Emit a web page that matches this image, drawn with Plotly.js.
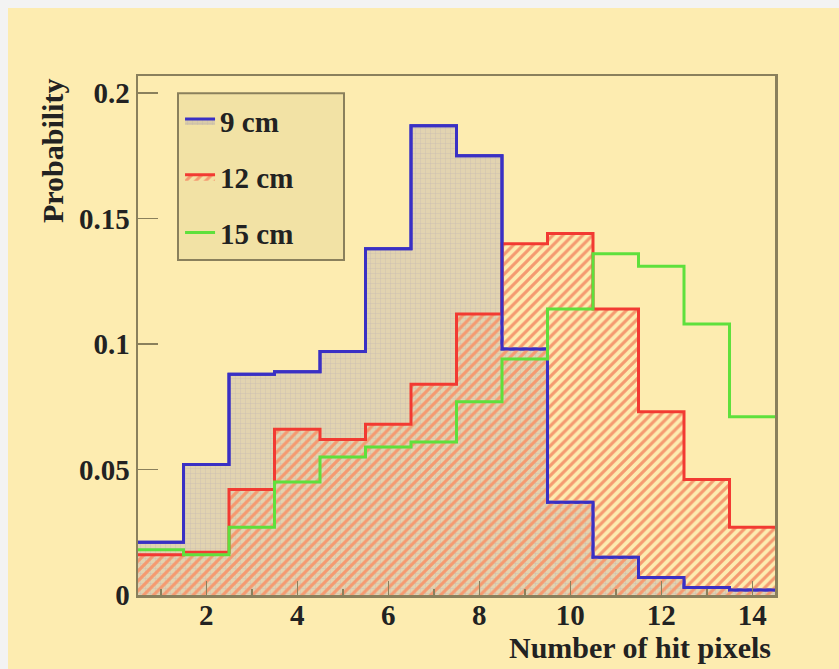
<!DOCTYPE html>
<html>
<head>
<meta charset="utf-8">
<script src="https://cdn.plot.ly/plotly-3.0.1.min.js"></script>
<style>
  html, body { margin: 0; padding: 0; background: #f3f3f3; }
  #panel { position: absolute; left: 8px; top: 8px; width: 831px; height: 661px; background: #fdecb0; }
  #chart { width: 831px; height: 661px; }
</style>
</head>
<body>
<div id="panel"><div id="chart"></div></div>
<script>
// Number of hit pixels per cluster, one bin per integer value
const binCenters = [1, 2, 3, 4, 5, 6, 7, 8, 9, 10, 11, 12, 13, 14];

// Probability per bin for each distance
const prob9cm  = [0.021, 0.052, 0.088, 0.089, 0.097, 0.138, 0.187, 0.175, 0.098, 0.037, 0.015, 0.007, 0.003, 0.002];
const prob12cm = [0.016, 0.017, 0.042, 0.066, 0.062, 0.068, 0.084, 0.112, 0.140, 0.144, 0.114, 0.073, 0.046, 0.027];
const prob15cm = [0.018, 0.016, 0.027, 0.045, 0.055, 0.059, 0.061, 0.077, 0.094, 0.114, 0.136, 0.131, 0.108, 0.071];

const seriesNames = ['9 cm', '12 cm', '15 cm'];
const yTickVals = [0, 0.05, 0.1, 0.15, 0.2];
const yTickText = ['0', '0.05', '0.1', '0.15', '0.2'];

// Step outline: left bin edges plus the final right edge
const binWidth = 1;
const edges = binCenters.map(c => c - binWidth / 2).concat([binCenters[binCenters.length - 1] + binWidth / 2]);
const stepY = v => v.concat([v[v.length - 1]]);

const blue = '#3a30c4', red = '#f23a32', green = '#5fe03c';
const serif = 'Liberation Serif, Times New Roman, serif';
const ink = '#222';

const traces = [
  {
    x: edges, y: stepY(prob9cm), name: seriesNames[0], legendgroup: 'a',
    type: 'scatter', mode: 'lines', line: { shape: 'hv', color: blue, width: 3 },
    fill: 'tozeroy', fillcolor: 'rgba(150,140,175,0.30)',
    fillpattern: { shape: '+', fgcolor: 'rgba(140,130,185,0.30)', bgcolor: 'rgba(155,145,175,0.28)', size: 5, solidity: 0.15 }
  },
  {
    x: edges, y: stepY(prob12cm), name: seriesNames[1], legendgroup: 'b',
    type: 'scatter', mode: 'lines', line: { shape: 'hv', color: red, width: 3 },
    fill: 'tozeroy', fillcolor: 'rgba(0,0,0,0)',
    fillpattern: { shape: '/', fgcolor: '#f59a70', bgcolor: 'rgba(0,0,0,0)', size: 7, solidity: 0.45 }
  },
  {
    // 9 cm outline redrawn above the hatching
    x: edges, y: stepY(prob9cm), showlegend: false, hoverinfo: 'skip',
    type: 'scatter', mode: 'lines', line: { shape: 'hv', color: blue, width: 3 }
  },
  {
    x: edges, y: stepY(prob15cm), name: seriesNames[2], legendgroup: 'c',
    type: 'scatter', mode: 'lines', line: { shape: 'hv', color: green, width: 3 }
  }
];

const axisColor = '#8a805c';
const tickFont = { family: serif, size: 29, color: ink, weight: 'bold' };
const layout = {
  width: 831, height: 661,
  paper_bgcolor: '#fdecb0', plot_bgcolor: '#fdecb0',
  margin: { l: 130, r: 64, t: 68, b: 74 },
  font: { family: serif, size: 29, color: ink, weight: 'bold' },
  showlegend: true,
  legend: {
    x: 0.066, y: 0.962, xanchor: 'left', yanchor: 'top',
    bgcolor: 'rgba(0,0,0,0)', borderwidth: 0,
    font: { family: serif, size: 29, color: ink, weight: 'bold' },
    traceorder: 'grouped', tracegroupgap: 15, itemwidth: 30
  },
  // Fixed-width legend frame behind the entries
  shapes: [
    {
      type: 'rect', xref: 'paper', yref: 'paper', layer: 'above',
      x0: 0.0628, x1: 0.3234, y0: 0.6455, y1: 0.967,
      fillcolor: '#f2e2a5', line: { color: axisColor, width: 2 }
    }
  ],
  xaxis: {
    range: [0.5, 14.5], tick0: 0, dtick: 2,
    ticks: 'inside', ticklen: 14, tickwidth: 1.5, tickcolor: axisColor,
    ticklabelstandoff: -7,
    minor: { dtick: 1, ticks: 'inside', ticklen: 6, tickcolor: axisColor, tickwidth: 1.5 },
    showline: true, linecolor: axisColor, linewidth: 2.5, mirror: true,
    showgrid: false, zeroline: false,
    tickfont: tickFont
  },
  yaxis: {
    range: [0, 0.2068], tickvals: yTickVals, ticktext: yTickText,
    ticks: 'inside', ticklen: 20, tickwidth: 1.5, tickcolor: axisColor,
    showline: true, linecolor: axisColor, linewidth: 2.5, mirror: true,
    showgrid: false, zeroline: false,
    tickfont: tickFont
  },
  annotations: [
    {
      text: 'Probability', xref: 'paper', yref: 'paper', x: -0.135, y: 0.998,
      xanchor: 'center', yanchor: 'top', textangle: -90, showarrow: false,
      font: { family: serif, size: 30, color: ink, weight: 'bold' }
    },
    {
      text: 'Number of hit pixels', xref: 'paper', yref: 'paper', x: 0.997, y: -0.101,
      xanchor: 'right', yanchor: 'middle', showarrow: false,
      font: { family: serif, size: 30, color: ink, weight: 'bold' }
    }
  ]
};

Plotly.newPlot('chart', traces, layout, { displayModeBar: false, staticPlot: true });
</script>
</body>
</html>
